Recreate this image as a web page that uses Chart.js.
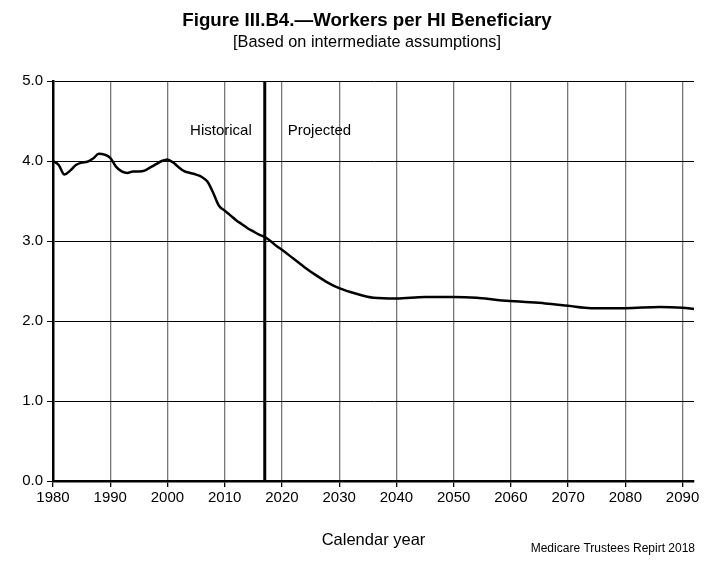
<!DOCTYPE html>
<html>
<head>
<meta charset="utf-8">
<script src="https://cdn.jsdelivr.net/npm/chart.js@4"></script>
<style>
  html, body { margin: 0; padding: 0; background: #fff; }
  #wrap { width: 709px; height: 563px; }
</style>
</head>
<body>
<div id="wrap"><canvas id="myChart" width="709" height="563"></canvas></div>
<script>
const years = [1980, 1981, 1982, 1983, 1984, 1985, 1986, 1987, 1988, 1989,
  1990, 1991, 1992, 1993, 1994, 1995, 1996, 1997, 1998, 1999,
  2000, 2001, 2002, 2003, 2004, 2005, 2006, 2007, 2008, 2009,
  2010, 2011, 2012, 2013, 2014, 2015, 2016, 2017, 2018, 2019,
  2020, 2022, 2024, 2026, 2028, 2030, 2033, 2036, 2040, 2045,
  2050, 2054, 2058, 2062, 2066, 2070, 2074, 2080, 2086, 2090, 2092];
const workersPerBeneficiary = [4.00, 3.95, 3.83, 3.88, 3.95, 3.98, 3.99, 4.03, 4.09, 4.08,
  4.04, 3.93, 3.87, 3.85, 3.87, 3.87, 3.88, 3.92, 3.96, 4.00,
  4.02, 3.98, 3.92, 3.87, 3.85, 3.83, 3.80, 3.74, 3.60, 3.44,
  3.38, 3.32, 3.26, 3.21, 3.16, 3.12, 3.08, 3.05, 3.00, 2.94,
  2.89, 2.78, 2.67, 2.57, 2.48, 2.41, 2.34, 2.29, 2.28, 2.30,
  2.30, 2.29, 2.26, 2.24, 2.22, 2.19, 2.16, 2.16, 2.175, 2.165, 2.15];
const xTicks = [1980, 1990, 2000, 2010, 2020, 2030, 2040, 2050, 2060, 2070, 2080, 2090];
const yTicks = [0, 1, 2, 3, 4, 5];
const lastHistoricalYear = 2017;

const FONT = "'Liberation Sans', Arial, sans-serif";

const points = years.map((y, i) => ({ x: y, y: workersPerBeneficiary[i] }));

// titles, footer, divider line and the two labels
const extras = {
  id: "extras",
  afterDraw(chart) {
    const ctx = chart.ctx;
    const xs = chart.scales.x;
    const ys = chart.scales.y;
    const area = chart.chartArea;
    ctx.save();

    const xDiv = xs.getPixelForValue(lastHistoricalYear);
    ctx.strokeStyle = "#000";
    ctx.lineWidth = 3;
    ctx.beginPath();
    ctx.moveTo(xDiv, area.top);
    ctx.lineTo(xDiv, area.bottom);
    ctx.stroke();

    ctx.fillStyle = "#000";
    ctx.textBaseline = "middle";
    ctx.font = "15px " + FONT;
    const yLab = ys.getPixelForValue(4.4);
    ctx.textAlign = "right";
    ctx.fillText("Historical", xDiv - 13, yLab + 2);
    ctx.textAlign = "left";
    ctx.fillText("Projected", xDiv + 23, yLab + 2);

    ctx.textAlign = "center";
    ctx.font = "bold 18.7px " + FONT;
    ctx.fillText("Figure III.B4.\u2014Workers per HI Beneficiary", 367, 21);
    ctx.font = "16.3px " + FONT;
    ctx.fillText("[Based on intermediate assumptions]", 367, 43);

    ctx.textAlign = "right";
    ctx.font = "12px " + FONT;
    ctx.fillText("Medicare Trustees Repirt 2018", 695, 549);
    ctx.restore();
  },
};

new Chart(document.getElementById("myChart"), {
  type: "line",
  data: {
    datasets: [
      {
        label: "Workers per HI beneficiary",
        data: points,
        borderColor: "#000",
        borderWidth: 2.5,
        pointRadius: 0,
        fill: false,
        cubicInterpolationMode: "monotone",
      },
    ],
  },
  options: {
    responsive: false,
    animation: false,
    layout: { padding: { top: 81, left: 0, right: 15, bottom: 0 } },
    plugins: {
      legend: { display: false },
      title: { display: false },
      tooltip: { enabled: false },
    },
    scales: {
      x: {
        type: "linear",
        min: 1980,
        max: 2092,
        afterBuildTicks: (s) => { s.ticks = xTicks.map((v) => ({ value: v })); },
        afterFit: (s) => { s.height = 82; },
        ticks: {
          color: "#000",
          font: { family: FONT, size: 15 },
          padding: 2,
          maxRotation: 0,
          callback: (v) => String(v),
        },
        grid: { color: "#777", lineWidth: 1.3, tickLength: 6, tickColor: "#000" },
        border: { color: "#000", width: 2.5 },
        title: {
          display: true,
          text: "Calendar year",
          color: "#000",
          font: { family: FONT, size: 16.5 },
          padding: { top: 0, bottom: 13 },
        },
      },
      y: {
        min: 0,
        max: 5,
        afterBuildTicks: (s) => { s.ticks = yTicks.map((v) => ({ value: v })); },
        afterFit: (s) => { s.width = 53; },
        ticks: {
          color: "#000",
          font: { family: FONT, size: 15 },
          padding: 4,
          callback: (v) => v.toFixed(1),
        },
        grid: { color: "#000", lineWidth: 1, tickLength: 6, tickColor: "#000" },
        border: { color: "#000", width: 2.5 },
      },
    },
  },
  plugins: [extras],
});
</script>
</body>
</html>
